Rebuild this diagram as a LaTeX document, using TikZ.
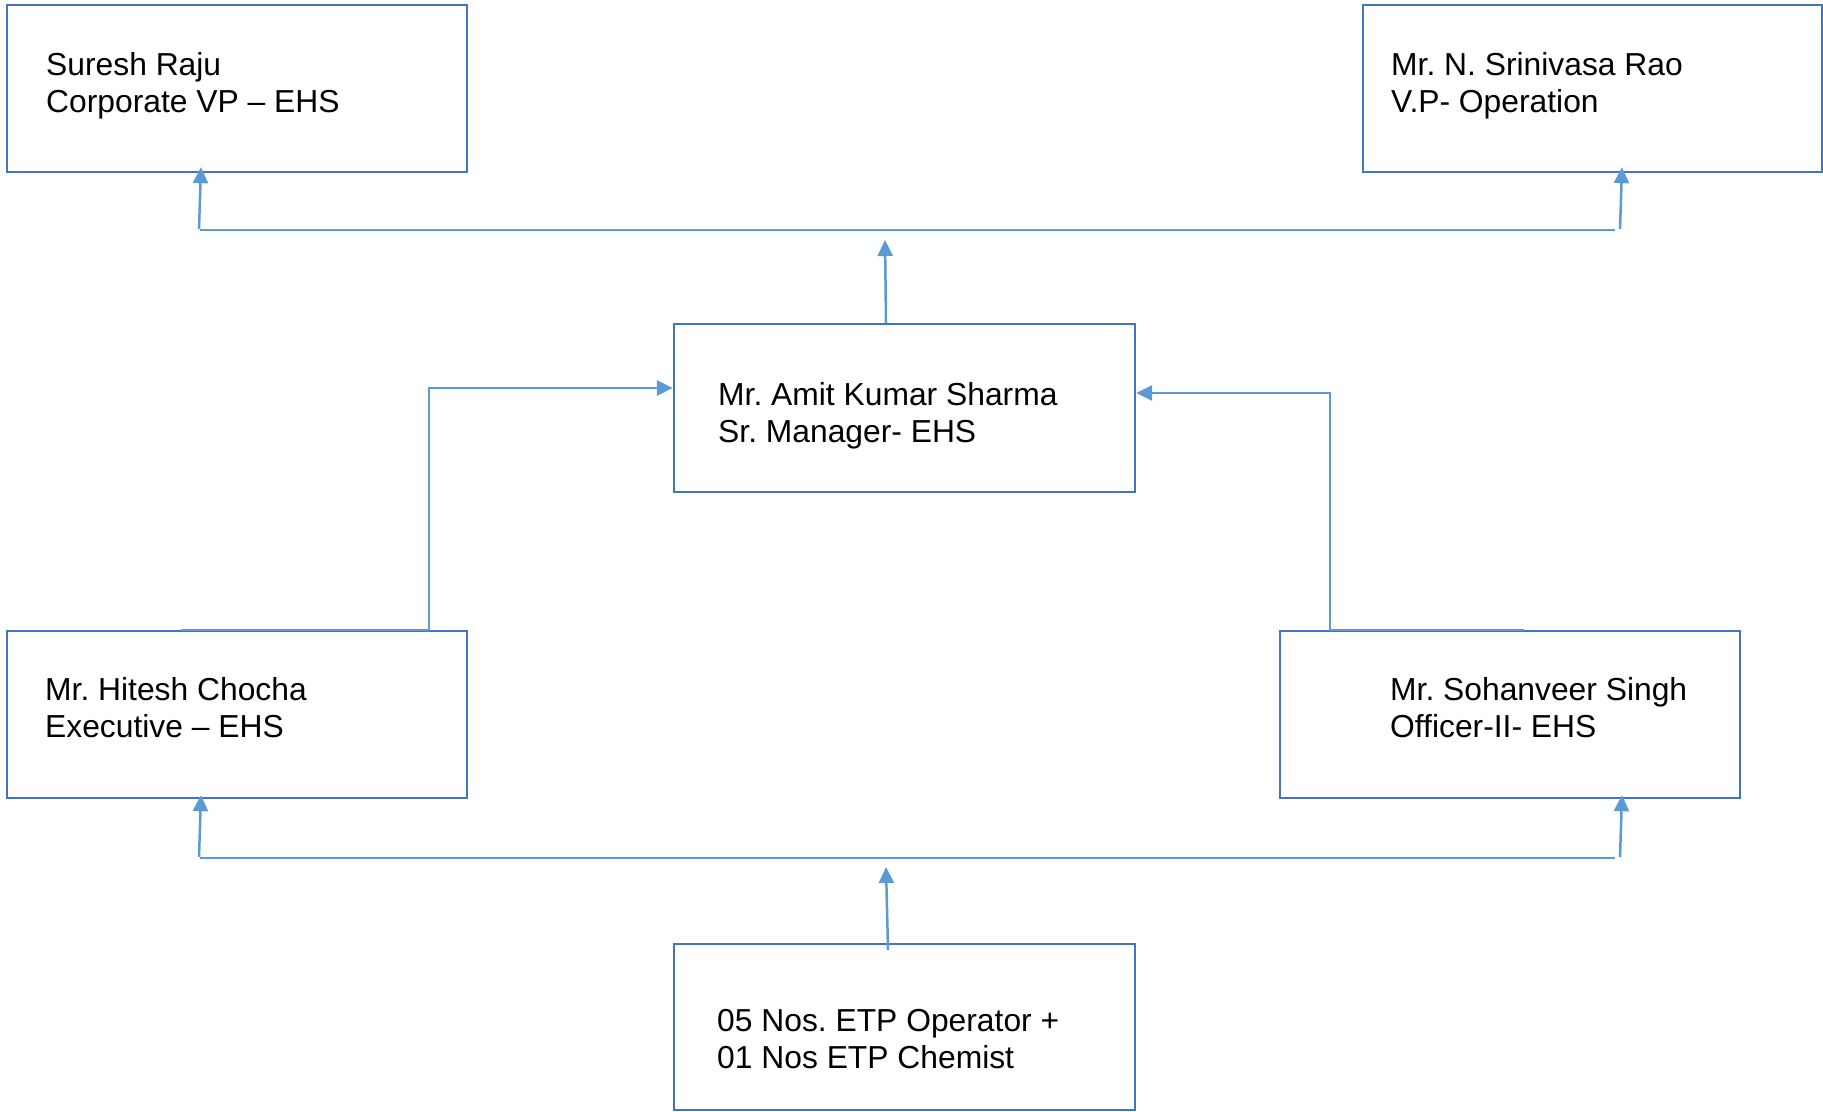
\documentclass[tikz,border=0pt]{standalone}
\usepackage{fontspec}
\setmainfont{Liberation Sans}
\usetikzlibrary{arrows.meta}
\definecolor{boxblue}{HTML}{4472C4}
\definecolor{linkblue}{HTML}{5B9BD5}
\frenchspacing
\begin{document}
\begin{tikzpicture}[x=1pt,y=-1pt,
  orgbox/.style={draw=boxblue, line width=2.3pt, rectangle, minimum width=460pt, minimum height=167pt, inner sep=0pt},
  txt/.style={anchor=base west, align=left, inner sep=0pt, text=black, font=\fontsize{31.8}{36.8}\selectfont},
  conn/.style={draw=linkblue, line width=2.5pt},
  hline/.style={draw=linkblue, line width=1.6pt},
  arr/.style={conn, -{Triangle[width=15pt,length=16pt]}}]
\useasboundingbox (0,0) rectangle (1823,1111);
% boxes
\node[orgbox] (tl) at (237,88.5) {};
\node[orgbox, minimum width=459pt] (tr) at (1592.5,88.5) {};
\node[orgbox, minimum width=461pt, minimum height=168pt] (mid) at (904.5,408) {};
\node[orgbox] (ml) at (237,714.5) {};
\node[orgbox] (mr) at (1510,714.5) {};
\node[orgbox, minimum width=461pt, minimum height=166pt] (bot) at (904.5,1027) {};
% texts (anchor at baseline of the last line)
\node[txt] (tlt) at (46,112) {Suresh Raju\\Corporate VP – EHS};
\node[txt] (trt) at (1391,112) {Mr. N. Srinivasa Rao\\V.P- Operation};
\node[txt] (midt) at (718,442) {Mr. Amit Kumar Sharma\\Sr. Manager- EHS};
\node[txt] (mlt) at (45,737) {Mr. Hitesh Chocha\\Executive – EHS};
\node[txt] (mrt) at (1390,737) {Mr. Sohanveer Singh\\Officer-II- EHS};
\node[txt] (bott) at (717,1068) {05 Nos. ETP Operator +\\01 Nos ETP Chemist};
% top bus
\coordinate (tbl) at (200,230);
\coordinate (tbr) at (1615,230);
\coordinate (tup) at (885,240);
\coordinate (tla) at (199,229);
\coordinate (tra) at (1620,229);
\draw[hline] (tbl) -- (tbr);
\draw[arr] ([xshift=-18.5pt]mid.north) -- (tup);
\draw[arr] (tla) -- ([xshift=-36pt,yshift=6pt]tl.south);
\draw[arr] (tra) -- ([xshift=29.5pt,yshift=6pt]tr.south);
% elbows into mid
\coordinate (lstart) at (181,630);
\coordinate (lcorner) at (429,630);
\coordinate (rstart) at (1524,630);
\coordinate (rcorner) at (1330,630);
\draw[arr] (lstart) -- (lcorner) |- ([yshift=20pt]mid.west);
\draw[arr] (rstart) -- (rcorner) |- ([yshift=15pt]mid.east);
% bottom bus
\coordinate (bbl) at (200,858);
\coordinate (bbr) at (1615,858);
\coordinate (bup) at (886,867);
\coordinate (bla) at (199,857);
\coordinate (bra) at (1620,857);
\draw[hline] (bbl) -- (bbr);
\draw[arr] ([xshift=-16.5pt,yshift=-7pt]bot.north) -- (bup);
\draw[arr] (bla) -- ([xshift=-36pt,yshift=4pt]ml.south);
\draw[arr] (bra) -- ([xshift=112pt,yshift=4pt]mr.south);
\end{tikzpicture}
\end{document}
